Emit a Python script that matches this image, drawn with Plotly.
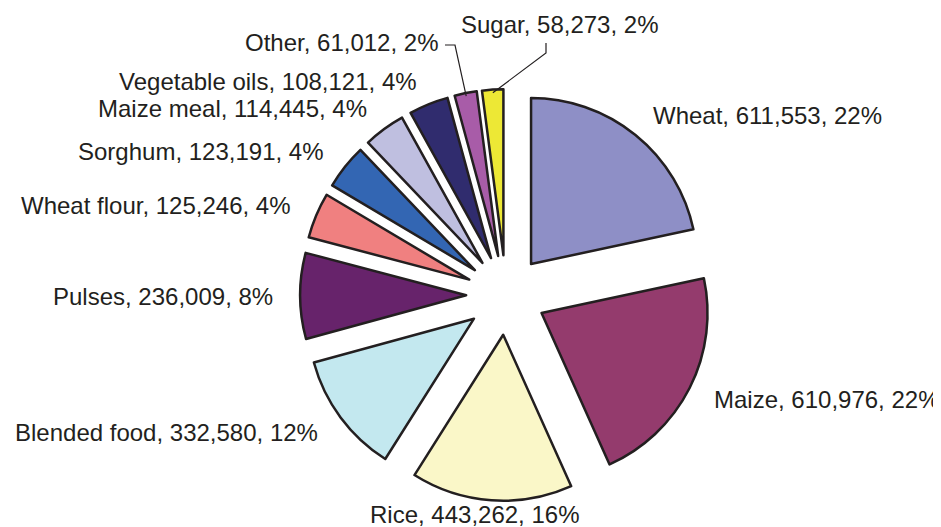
import math
import plotly.graph_objects as go

# ---- data ----
labels = ["Wheat", "Maize", "Rice", "Blended food", "Pulses", "Wheat flour",
          "Sorghum", "Maize meal", "Vegetable oils", "Other", "Sugar"]
values = [611553, 610976, 443262, 332580, 236009, 125246,
          123191, 114445, 108121, 61012, 58273]
colors = ["#8E8FC6", "#943B6D", "#FAF7C8", "#C3E8EF", "#67236B", "#F08080",
          "#3366B3", "#BFBFE0", "#302C6E", "#A85CA8", "#EDE835"]

# ---- layout / style ----
PAGE_OFF = 8               # default body margin of the html page (px)
W, H = 941 - PAGE_OFF, 527 - PAGE_OFF
CX, CY = 506, 295          # pie centre (window px)
R = 166                    # pie radius (px)
PULL = 0.24
LABEL_GAP = 25
FONT = dict(family="Liberation Sans, Arial, sans-serif", size=24, color="#231F20")
# labels that were moved away from their slices, with leader lines (window px)
callouts = {
    "Other": dict(x=440, y=43, xanchor="right", leader=[(445, 45), (455, 45)]),
    "Sugar": dict(x=459, y=25, xanchor="left", leader=[(546, 43), (546, 53)]),
}


def px2paper(x, y):
    return (x - PAGE_OFF) / W, 1 - (y - PAGE_OFF) / H


R_OUT = R * (1 + PULL)
x0, y1 = px2paper(CX - R_OUT, CY - R_OUT)
x1, y0 = px2paper(CX + R_OUT, CY + R_OUT)

fig = go.Figure(go.Pie(
    labels=labels,
    values=values,
    sort=False,
    direction="clockwise",
    rotation=0,
    pull=[PULL] * len(values),
    marker=dict(colors=colors, line=dict(color="#231F20", width=2.5)),
    textinfo="none",
    domain=dict(x=[x0, x1], y=[y0, y1]),
    showlegend=False,
    hoverinfo="label+value+percent",
))

total = sum(values)
annotations = []
shapes = []
cum = 0
for lab, v in zip(labels, values):
    mid = (cum + v / 2) / total * 2 * math.pi
    cum += v
    s, c = math.sin(mid), math.cos(mid)
    text = f"{lab}, {v:,}, {round(100 * v / total)}%"
    if lab in callouts:
        co = callouts[lab]
        ax, ay = px2paper(co["x"], co["y"])
        annotations.append(dict(x=ax, y=ay, xref="paper", yref="paper", text=text,
                                showarrow=False, xanchor=co["xanchor"], yanchor="middle",
                                font=FONT))
        ox, oy = CX + R_OUT * 0.985 * s, CY - R_OUT * 0.985 * c
        pts = co["leader"] + [(ox, oy)]
        path = "M " + " L ".join(f"{px2paper(x, y)[0]},{px2paper(x, y)[1]}" for x, y in pts)
        shapes.append(dict(type="path", path=path, xref="paper", yref="paper",
                           line=dict(color="#231F20", width=1.2)))
        continue
    if s > 0.3:
        xa, ya = "left", "middle"
        lx, ly = CX + (R_OUT + LABEL_GAP) * s, CY - (R_OUT + LABEL_GAP) * c
    elif s < -0.3:
        xa, ya = "right", "middle"
        lx, ly = CX + (R_OUT + LABEL_GAP) * s, CY - (R_OUT + LABEL_GAP) * c
    else:
        xa = "center"
        ya = "top" if c < 0 else "bottom"
        lx, ly = CX + R_OUT * s - 17, CY - (R_OUT - 1) * c
    ax, ay = px2paper(lx, ly)
    annotations.append(dict(x=ax, y=ay, xref="paper", yref="paper", text=text,
                            showarrow=False, xanchor=xa, yanchor=ya, font=FONT))

fig.update_layout(
    width=W, height=H,
    margin=dict(l=0, r=0, t=0, b=0),
    paper_bgcolor="white",
    plot_bgcolor="white",
    annotations=annotations,
    shapes=shapes,
)

fig.write_html("out.html")
